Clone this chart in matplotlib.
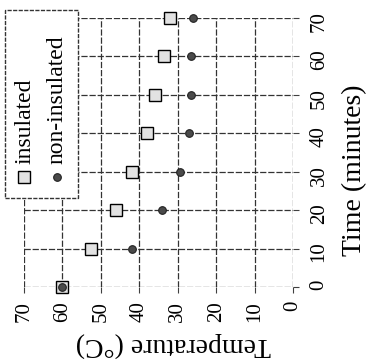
import matplotlib
matplotlib.use("Agg")
import matplotlib.pyplot as plt
from matplotlib.lines import Line2D
from matplotlib.patches import Rectangle

plt.rcParams["font.family"] = ["Liberation Serif", "DejaVu Serif"]

# chart is drawn turned a quarter turn: temperature runs along the bottom (reversed),
# time runs up the right-hand side
time_min = [0, 10, 20, 30, 40, 50, 60, 70]
insulated = [60, 52.5, 46, 42, 38, 36, 33.5, 32]
non_insulated = [60, 42, 34, 29.5, 27, 26.5, 26.5, 26]
ticks = [0, 10, 20, 30, 40, 50, 60, 70]

fig = plt.figure(figsize=(3.69, 3.60), dpi=100)
ax = fig.add_axes([0.065, 0.203, 0.729, 0.747])

ax.set_xlim(70, 0)
ax.set_ylim(0, 70)
ax.set_xticks(ticks)
ax.set_yticks(ticks)
for s in ax.spines.values():
    s.set_visible(False)
ax.grid(True, color="0.2", linewidth=0.9, linestyle=(0, (5, 1.5)))
ax.set_axisbelow(True)

ax.yaxis.tick_right()
ax.tick_params(axis="x", labelrotation=90, labelsize=15, length=4, pad=6, color="0.25")
ax.tick_params(axis="y", labelrotation=90, labelsize=15, length=4, pad=8, color="0.25")

sq_style = dict(marker="s", markersize=9, markerfacecolor="#e2e2e2",
                markeredgecolor="black", markeredgewidth=1.0, linestyle="none")
ci_style = dict(marker="o", markersize=5.5, markerfacecolor="#4a4a4a",
                markeredgecolor="#222222", markeredgewidth=0.8, linestyle="none")

ax.plot(insulated, time_min, clip_on=False, zorder=3, **sq_style)
ax.plot(non_insulated, time_min, clip_on=False, zorder=4, **ci_style)

fig.text(0.962, 0.527, "Time (minutes)", rotation=90, ha="center", va="center", fontsize=20)
fig.text(0.469, 0.042, "Temperature (°C)", rotation=180, ha="center", va="center", fontsize=20)

# hand-made legend, turned like the rest of the chart
fig.add_artist(Rectangle((0.0136, 0.45), 0.197, 0.522, transform=fig.transFigure,
                         facecolor="white", edgecolor="0.2", linewidth=1.0,
                         linestyle=(0, (3, 1)), zorder=5))
fig.add_artist(Line2D([0.065], [0.508], transform=fig.transFigure, zorder=6, **sq_style))
fig.add_artist(Line2D([0.155], [0.508], transform=fig.transFigure, zorder=6, **ci_style))
fig.text(0.068, 0.545, "insulated", rotation=90, ha="center", va="bottom",
         fontsize=17, zorder=7)
fig.text(0.155, 0.545, "non-insulated", rotation=90, ha="center", va="bottom",
         fontsize=17, zorder=7)

fig.savefig("out.png", dpi=100)
